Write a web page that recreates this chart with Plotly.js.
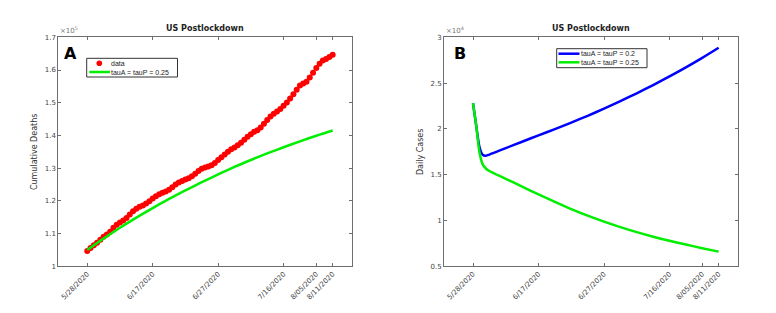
<!DOCTYPE html>
<html>
<head>
<meta charset="utf-8">
<script src="https://cdn.plot.ly/plotly-3.0.1.min.js"></script>
<style>html,body{margin:0;padding:0;background:#fff;}#chart{width:776px;height:313px;}</style>
</head>
<body>
<div id="chart"></div>
<script>
// Tick positions (day index since 5/28/2020) and their labels as printed
const tickDays = [0, 20, 40, 60, 70, 75];
const tickLabels = ["5/28/2020", "6/17/2020", "6/27/2020", "7/16/2020", "8/05/2020", "8/11/2020"];

// Panel A: cumulative deaths (x10^5), one per day
const deathDays = [];
for (let i = 0; i <= 75; i++) deathDays.push(i);
const deathData = [
  1.047, 1.056, 1.064, 1.072, 1.081, 1.090, 1.097, 1.106, 1.118, 1.127,
  1.134, 1.140, 1.148, 1.158, 1.168, 1.176, 1.182, 1.186, 1.192, 1.199,
  1.207, 1.214, 1.220, 1.225, 1.229, 1.234, 1.242, 1.250, 1.256, 1.261,
  1.265, 1.269, 1.275, 1.283, 1.291, 1.298, 1.302, 1.305, 1.309, 1.316,
  1.325, 1.333, 1.342, 1.350, 1.358, 1.363, 1.370, 1.378, 1.387, 1.396,
  1.404, 1.411, 1.416, 1.424, 1.436, 1.447, 1.458, 1.466, 1.473, 1.481,
  1.491, 1.501, 1.513, 1.526, 1.540, 1.553, 1.559, 1.564, 1.577, 1.592,
  1.606, 1.619, 1.629, 1.634, 1.640, 1.647
];

// Panel A model: tauA = tauP = 0.25 (x10^5)
const modelDaysA = [0, 5, 10, 15, 20, 25, 30, 35, 40, 45, 50, 55, 60, 65, 70, 75];
const modelA25 = [1.050, 1.085, 1.118, 1.149, 1.178, 1.206, 1.232, 1.257, 1.281, 1.304, 1.325, 1.345, 1.364, 1.382, 1.399, 1.415];

// Panel B: daily cases (x10^4)
const modelDaysB = [0, 1, 2, 3, 4, 5, 10, 15, 20, 25, 30, 35, 40, 45, 50, 55, 60, 65, 70, 75];
const casesB20 = [2.28, 2.03, 1.80, 1.715, 1.708, 1.72, 1.79, 1.86, 1.93, 1.998, 2.069, 2.143, 2.221, 2.303, 2.389, 2.479, 2.573, 2.672, 2.776, 2.886];
const casesB25 = [2.28, 2.03, 1.74, 1.61, 1.565, 1.54, 1.455, 1.37, 1.285, 1.203, 1.125, 1.053, 0.988, 0.928, 0.873, 0.823, 0.778, 0.737, 0.698, 0.66];

// Legend labels
const legendA = ["data", "tauA = tauP = 0.25"];
const legendB = ["tauA = tauP = 0.2", "tauA = tauP = 0.25"];

const W = 776, H = 313;
const px = v => v / W;
const py = v => 1 - v / H;

const axisColor = '#6e6e6e';
const FONT = 'DejaVu Sans, Arial, sans-serif';
const LFONT = 'Liberation Sans, Arial, sans-serif';
const tickFont = {family: FONT, size: 7, color: '#444'};
const RED = '#ff0000', GREEN = '#00ee00', BLUE = '#0000ff';

const traces = [
  {x: deathDays, y: deathData, type: 'scatter', mode: 'markers', name: legendA[0],
   marker: {color: RED, size: 6}, xaxis: 'x', yaxis: 'y'},
  {x: modelDaysA, y: modelA25, type: 'scatter', mode: 'lines', name: legendA[1],
   line: {color: GREEN, width: 2.5, shape: 'spline', smoothing: 0.8}, xaxis: 'x', yaxis: 'y'},
  {x: modelDaysB, y: casesB20, type: 'scatter', mode: 'lines', name: legendB[0],
   line: {color: BLUE, width: 2.5, shape: 'spline', smoothing: 0.8}, xaxis: 'x2', yaxis: 'y2'},
  {x: modelDaysB, y: casesB25, type: 'scatter', mode: 'lines', name: legendB[1],
   line: {color: GREEN, width: 2.5, shape: 'spline', smoothing: 0.8}, xaxis: 'x2', yaxis: 'y2'}
];

function xAxis(domain, anchor) {
  return {domain: domain, anchor: anchor, range: [-8.85, 81], tickmode: 'array',
    tickvals: tickDays, ticktext: tickLabels, tickangle: -45, ticks: 'inside', ticklen: 3,
    tickcolor: axisColor, showline: true, linecolor: axisColor, linewidth: 1, mirror: 'ticks',
    showgrid: false, zeroline: false, tickfont: tickFont};
}
function yAxis(domain, anchor, range, dtick, title) {
  return {domain: domain, anchor: anchor, range: range, dtick: dtick, tick0: range[0],
    ticks: 'inside', ticklen: 3, tickcolor: axisColor, showline: true, linecolor: axisColor,
    linewidth: 1, mirror: 'ticks', showgrid: false, zeroline: false, tickfont: tickFont,
    title: {text: title, font: {family: FONT, size: 8, color: '#333'}, standoff: 5}};
}

const yDom = [0.1492, 0.8808];
const dA = [0.0751, 0.4540];
const dB = [0.5722, 0.9514];

// custom compact legend boxes (pixel geometry)
function legendShapes(box, rows) {
  const s = [{type: 'rect', xref: 'paper', yref: 'paper', x0: px(box[0]), x1: px(box[2]),
    y0: py(box[1]), y1: py(box[3]), line: {color: '#333', width: 1}, fillcolor: '#fff', layer: 'above'}];
  rows.forEach(r => {
    if (r.kind === 'dot') {
      s.push({type: 'circle', xref: 'paper', yref: 'paper', x0: px(r.cx - 2.8), x1: px(r.cx + 2.8),
        y0: py(r.y - 2.8), y1: py(r.y + 2.8), fillcolor: r.color, line: {color: r.color, width: 0}, layer: 'above'});
    } else {
      s.push({type: 'line', xref: 'paper', yref: 'paper', x0: px(r.x0), x1: px(r.x1),
        y0: py(r.y), y1: py(r.y), line: {color: r.color, width: 2.5}, layer: 'above'});
    }
  });
  return s;
}
function legendTexts(rows) {
  return rows.map(r => ({text: r.label, xref: 'paper', yref: 'paper', x: px(r.tx), y: py(r.y),
    xanchor: 'left', yanchor: 'middle', xshift: -2, showarrow: false,
    font: {family: LFONT, size: 7, color: '#222'}}));
}
const rowsA = [
  {kind: 'dot', cx: 99.3, y: 63.3, color: RED, tx: 110.5, label: legendA[0]},
  {kind: 'line', x0: 89.3, x1: 110, y: 72, color: GREEN, tx: 110.5, label: legendA[1]}
];
const rowsB = [
  {kind: 'line', x0: 558.5, x1: 579.5, y: 53.7, color: BLUE, tx: 580.5, label: legendB[0]},
  {kind: 'line', x0: 558.5, x1: 579.5, y: 62.3, color: GREEN, tx: 580.5, label: legendB[1]}
];

const layout = {
  width: W, height: H,
  margin: {l: 0, r: 0, t: 0, b: 0},
  paper_bgcolor: '#fff', plot_bgcolor: '#fff',
  showlegend: false,
  xaxis: xAxis(dA, 'y'),
  yaxis: yAxis(yDom, 'x', [1, 1.7], 0.1, 'Cumulative Deaths'),
  xaxis2: xAxis(dB, 'y2'),
  yaxis2: yAxis(yDom, 'x2', [0.5, 3], 0.5, 'Daily Cases'),
  shapes: legendShapes([86.7, 58.3, 177.5, 77], rowsA).concat(legendShapes([556.7, 48.7, 647, 67.7], rowsB)),
  annotations: [
    {text: '<b>US Postlockdown</b>', xref: 'paper', yref: 'paper', x: (dA[0] + dA[1]) / 2, y: yDom[1],
     xanchor: 'center', yanchor: 'bottom', yshift: 2, showarrow: false,
     font: {family: FONT, size: 8, color: '#222'}},
    {text: '<b>US Postlockdown</b>', xref: 'paper', yref: 'paper', x: (dB[0] + dB[1]) / 2, y: yDom[1],
     xanchor: 'center', yanchor: 'bottom', yshift: 2, showarrow: false,
     font: {family: FONT, size: 8, color: '#222'}},
    {text: '×10<sup>5</sup>', xref: 'paper', yref: 'paper', x: dA[0], y: yDom[1],
     xanchor: 'left', yanchor: 'bottom', showarrow: false,
     font: {family: FONT, size: 7, color: '#777'}},
    {text: '×10<sup>4</sup>', xref: 'paper', yref: 'paper', x: dB[0], y: yDom[1],
     xanchor: 'left', yanchor: 'bottom', showarrow: false,
     font: {family: FONT, size: 7, color: '#777'}},
    {text: '<b>A</b>', xref: 'paper', yref: 'paper', x: dA[0], y: yDom[1],
     xanchor: 'left', yanchor: 'top', xshift: 4, yshift: -5, showarrow: false,
     font: {family: FONT, size: 16, color: '#000'}},
    {text: '<b>B</b>', xref: 'paper', yref: 'paper', x: dB[0], y: yDom[1],
     xanchor: 'left', yanchor: 'top', xshift: 8, yshift: -5, showarrow: false,
     font: {family: FONT, size: 16, color: '#000'}}
  ].concat(legendTexts(rowsA), legendTexts(rowsB))
};

Plotly.newPlot('chart', traces, layout, {staticPlot: true, displayModeBar: false});
</script>
</body>
</html>
